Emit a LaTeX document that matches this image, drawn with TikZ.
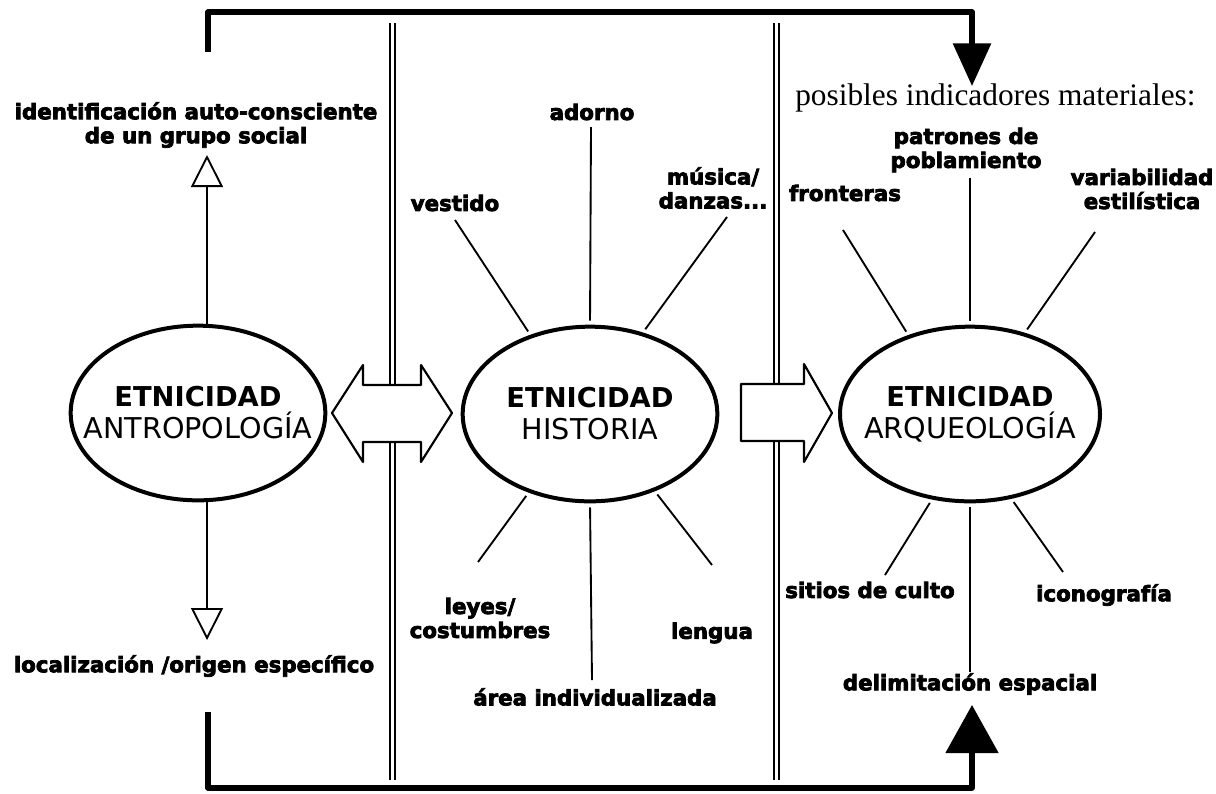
\documentclass[tikz,border=0pt]{standalone}
\usepackage{fontspec}
\setmainfont{DejaVu Sans}
\newfontfamily\heavy[FakeBold=3.5]{DejaVu Sans Bold}
\newfontfamily\timesf{Liberation Serif}
\usetikzlibrary{shapes.geometric,arrows.meta}
\tikzset{
  lbl/.style={font=\heavy\fontsize{16}{18}\selectfont, align=center, inner sep=0pt},
  ell/.style={ellipse, draw, line width=3pt, minimum width=191pt, minimum height=131pt,
              inner sep=0pt},
  etext/.style={align=center, inner sep=0pt, font=\fontsize{21.5}{24}\selectfont},
  spoke/.style={line width=1.4pt, shorten >=3pt},
  sepline/.style={line width=1.1pt},
  bracketline/.style={line width=3.8pt, line join=round},
  openarr/.style={line width=1.4pt, -{Triangle[open,length=24pt,width=24pt,line width=1.4pt]}},
  blockarrow/.style={draw, fill=white, line width=1.6pt, line join=round},
}
\newcommand{\etn}{{\fontsize{20.5}{24}\selectfont\bfseries ETNICIDAD}}
\begin{document}
\begin{tikzpicture}[x=0.75pt,y=-0.75pt]
\useasboundingbox[fill=white] (0,0) rectangle (1216,793);

% separator double lines
\draw[sepline] (390,23) -- (390,780);
\draw[sepline] (395,23) -- (395,780);
\draw[sepline] (774,23) -- (774,780);
\draw[sepline] (779,23) -- (779,780);

% block arrows
\draw[blockarrow] (332,413) -- (363,365) -- (363,385) -- (421,385) -- (421,365) -- (452,413)
  -- (421,462) -- (421,442) -- (363,442) -- (363,462) -- cycle;
\draw[blockarrow] (741,384) -- (804,384) -- (804,364) -- (832,413) -- (804,462) -- (804,441)
  -- (741,441) -- cycle;

% ellipses
\node[ell] (A) at (198,413) {};
\node[ell] (H) at (590,414) {};
\node[ell, minimum width=195pt] (Q) at (970,414) {};
\node[etext] (At) at (A) {\etn\\ANTROPOLOGÍA};
\node[etext] (Ht) at (H) {\etn\\HISTORIA};
\node[etext] (Qt) at (Q) {\etn\\ARQUEOLOGÍA};

% left column
\node[lbl] (ident) at (196,125) {identificación auto-consciente\\de un grupo social};
\node[lbl] (local) at (194,666) {localización /origen específico};
\coordinate (upTip) at (207,155);
\coordinate (dnTip) at (207,640);
\draw[openarr] (A.north -| upTip) -- (upTip);
\draw[openarr] (A.south -| dnTip) -- (dnTip);

% historia labels
\node[lbl] (vest) at (455,203) {vestido};
\node[lbl] (ador) at (592,112) {adorno};
\node[lbl] (musi) at (713,188) {música/\\danzas...};
\node[lbl] (leye) at (480,618) {leyes/\\costumbres};
\node[lbl] (area) at (595,697) {área individualizada};
\node[lbl] (leng) at (712,633) {lengua};
\coordinate (cVest) at (455,220);
\coordinate (cAdor) at (591,127);
\coordinate (cMusi) at (727,217);
\coordinate (cLeye) at (478,562);
\coordinate (cArea) at (592,680);
\coordinate (cLeng) at (712,565);
\draw[spoke] (cVest) -- (H.127);
\draw[spoke] (cAdor) -- (H.90);
\draw[spoke] (cMusi) -- (H.57);
\draw[spoke] (cLeye) -- (H.232);
\draw[spoke] (cArea) -- (H.270);
\draw[spoke] (cLeng) -- (H.310);

% arqueologia labels
\node[anchor=base west, font=\timesf\fontsize{23.5}{26}\selectfont, inner sep=0pt] (pos) at (795,105) {posibles indicadores materiales:};
\node[lbl] (fron) at (845,193) {fronteras};
\node[lbl] (patr) at (966,150) {patrones de\\poblamiento};
\node[lbl] (vari) at (1142,189) {variabilidad\\estilística};
\node[lbl] (siti) at (870,590) {sitios de culto};
\node[lbl] (delim) at (970,684) {delimitación espacial};
\node[lbl] (icon) at (1104,595) {iconografía};
\coordinate (cFron) at (843,230);
\coordinate (cPatr) at (970,178);
\coordinate (cVari) at (1095,232);
\coordinate (cSiti) at (885,575);
\coordinate (cDeli) at (970,672);
\coordinate (cIcon) at (1063,572);
\draw[spoke] (cFron) -- (Q.128);
\draw[spoke] (cPatr) -- (Q.90);
\draw[spoke] (cVari) -- (Q.56);
\draw[spoke] (cSiti) -- (Q.246);
\draw[spoke] (cDeli) -- (Q.270);
\draw[spoke] (cIcon) -- (Q.296);

% brackets
\coordinate (tStart) at (208,52);
\coordinate (tEnd) at (972,86);
\coordinate (bStart) at (208,712);
\coordinate (bEnd) at (972,705);
\draw[bracketline, -{Triangle[length=32pt,width=28pt]}] (tStart) |- (972,12) -- (tEnd);
\draw[bracketline, -{Triangle[length=36pt,width=39pt]}] (bStart) |- (972,788) -- (bEnd);
\end{tikzpicture}
\end{document}
